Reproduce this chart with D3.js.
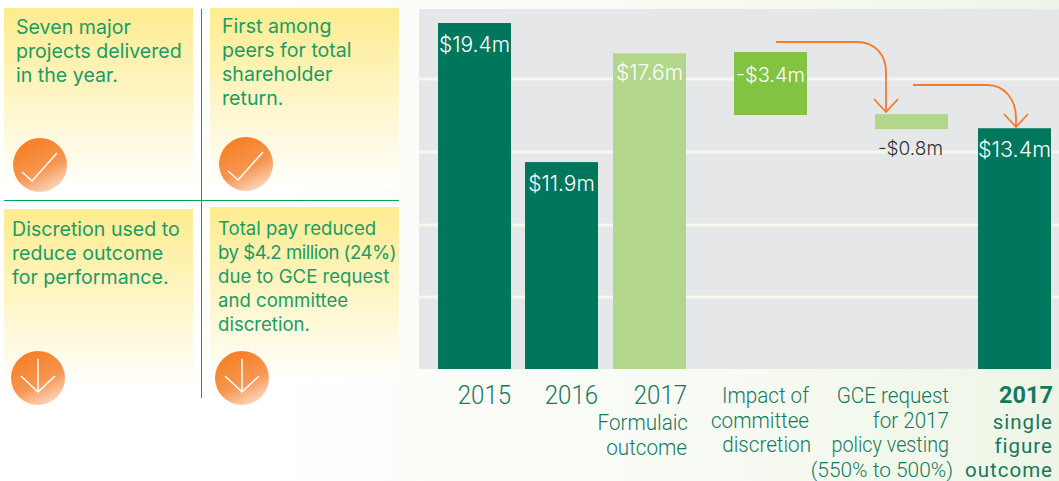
<!DOCTYPE html>
<html>
<head>
<meta charset="utf-8">
<script src="https://cdn.jsdelivr.net/npm/d3@7"></script>
<style>
html,body{margin:0;padding:0;background:#fff;overflow:hidden}
</style>
</head>
<body>
<div id="chart"></div>
<script>
// values in $m
const categories = ['2015', '2016', '2017f', 'impact', 'gce', '2017s'];
const barLow = [0, 0, 0, 14.24, 13.45, 0];
const barHigh = [19.4, 11.6, 17.7, 17.77, 14.29, 13.5];
const barLabels = ['$19.4m', '$11.9m', '$17.6m', '-$3.4m', '-$0.8m', '$13.4m'];
const gridValues = [4.04, 8.07, 12.17, 16.26];
const axisLines = [
  ['2015'], ['2016'], ['2017', 'Formulaic', 'outcome'],
  ['Impact of', 'committee', 'discretion'],
  ['GCE request', 'for 2017', 'policy vesting', '(550% to 500%)'],
  ['2017', 'single', 'figure', 'outcome']
];
const panelTexts = [
  ['Seven major', 'projects delivered', 'in the year.'],
  ['First among', 'peers for total', 'shareholder', 'return.'],
  ['Discretion used to', 'reduce outcome', 'for performance.'],
  ['Total pay reduced', 'by $4.2 million (24%)', 'due to GCE request', 'and committee', 'discretion.']
];
const panelIcons = ['check', 'check', 'down', 'down'];

const width = 1059, height = 481;
const svg = d3.select('#chart').append('svg').attr('width', width).attr('height', height)
  .style('display', 'block');
const defs = svg.append('defs');

const fadeBg = defs.append('linearGradient').attr('id', 'fadeBg');
fadeBg.append('stop').attr('offset', '0').attr('stop-color', '#ffffff');
fadeBg.append('stop').attr('offset', '0.2').attr('stop-color', '#fcfcf9');
fadeBg.append('stop').attr('offset', '0.55').attr('stop-color', '#f8fbf4');
fadeBg.append('stop').attr('offset', '1').attr('stop-color', '#eef5e6');

const panelGrad = defs.append('linearGradient').attr('id', 'panelGrad')
  .attr('x1', 0).attr('y1', 0).attr('x2', 0).attr('y2', 1);
panelGrad.append('stop').attr('offset', '0').attr('stop-color', '#feec8f');
panelGrad.append('stop').attr('offset', '1').attr('stop-color', '#ffffff');

const iconGrad = defs.append('linearGradient').attr('id', 'iconGrad')
  .attr('x1', 0.3).attr('y1', 0.05).attr('x2', 0.75).attr('y2', 1);
iconGrad.append('stop').attr('offset', '0').attr('stop-color', '#f58025');
iconGrad.append('stop').attr('offset', '0.55').attr('stop-color', '#f79550');
iconGrad.append('stop').attr('offset', '1').attr('stop-color', '#fbdcc6');

defs.append('marker').attr('id', 'arrowHead')
  .attr('viewBox', '-14 -14 16 28').attr('refX', 0).attr('refY', 0)
  .attr('markerUnits', 'userSpaceOnUse').attr('markerWidth', 16).attr('markerHeight', 28)
  .attr('orient', 'auto')
  .append('path').attr('d', 'M-13,-12L0,0L-13,12')
  .attr('fill', 'none').attr('stroke', '#f47b2a').attr('stroke-width', 1.8);

// background
svg.append('rect').attr('x', 270).attr('y', 0).attr('width', 789).attr('height', 481).attr('fill', 'url(#fadeBg)');
svg.append('rect').attr('x', 419).attr('y', 9).attr('width', 640).attr('height', 360).attr('fill', '#e6e7e9');

// chart
const x = d3.scaleOrdinal().domain(categories).range([438, 525, 613, 734, 875, 978]);
const barW = 73;
const y = d3.scaleLinear().domain([0, 19.4]).range([369, 23]);

svg.append('g').selectAll('line').data(gridValues).join('line')
  .attr('x1', 419).attr('x2', 1059)
  .attr('y1', d => y(d)).attr('y2', d => y(d))
  .attr('stroke', '#f5f8ec').attr('stroke-width', 3);

const barFill = ['#00775c', '#00775c', '#b2d78b', '#82c341', '#b2d78b', '#00775c'];
svg.append('g').selectAll('rect').data(categories).join('rect')
  .attr('x', d => x(d)).attr('width', barW)
  .attr('y', (d, i) => y(barHigh[i]))
  .attr('height', (d, i) => y(barLow[i]) - y(barHigh[i]))
  .attr('fill', (d, i) => barFill[i]);

const valueY = [52, 191, 80, 82, 155, 157];
const valueSize = [21, 21, 21, 20, 19, 21.5];
svg.append('g').selectAll('text').data(categories).join('text')
  .attr('x', (d, i) => x(d) + barW / 2 - (i == 4 ? 1 : 0)).attr('y', (d, i) => valueY[i])
  .attr('text-anchor', 'middle')
  .attr('font-family', 'Inter').attr('font-size', (d, i) => valueSize[i]).attr('font-weight', 300)
  .attr('fill', (d, i) => i == 4 ? '#333' : '#fff')
  .text((d, i) => barLabels[i]);

// waterfall arrows
const arrows = ['M776,42H857C875,42 886,55 886,72V112', 'M913,85H987C1005,85 1016,100 1016,118V127'];
svg.append('g').selectAll('path').data(arrows).join('path')
  .attr('d', d => d).attr('fill', 'none')
  .attr('stroke', '#f47b2a').attr('stroke-width', 1.8)
  .attr('marker-end', 'url(#arrowHead)');

// category labels, condensed by squeezing x a bit
const axisRight = [
  [511], [598], [687, 688, 687],
  [809, 809, 811],
  [949, 949, 949, 953],
  [1053, 1053, 1053, 1053]
];
const axisBase = [
  [404], [404], [404, 430, 455],
  [403, 428, 452],
  [403, 428, 452, 476.5],
  [403, 429, 453, 476.5]
];
const axisG = svg.append('g').attr('font-family', 'Roboto').attr('fill', '#14795f').attr('text-anchor', 'end');
axisLines.forEach((lines, i) => {
  lines.forEach((t, j) => {
    const big = j == 0 && i < 3;
    let sx = i == 5 ? 1 : 0.96;
    if (t == 'policy vesting') sx = 0.92;
    if (t[0] == '(') sx = 1.02;
    const lt = axisG.append('text')
      .attr('transform', `translate(${axisRight[i][j]},${axisBase[i][j]}) scale(${sx},1)`)
      .attr('font-size', big ? 25 : t[0] == '(' ? 20.5 : 21.5).attr('font-weight', 300)
      .text(t);
    if (i == 5) {
      lt.attr('font-weight', j == 0 ? 700 : 400).attr('font-size', j == 0 ? 23.5 : 20.5)
        .attr('letter-spacing', j == 0 ? 0 : 1);
    }
  });
});

// left panels
const panelX = [4, 210, 4, 210], panelY = [8, 8, 209, 207], panelH = [181, 181, 182, 175];
const panelG = svg.append('g').selectAll('g').data(panelTexts).join('g');
panelG.append('rect').attr('x', (d, i) => panelX[i]).attr('y', (d, i) => panelY[i])
  .attr('width', 189).attr('height', (d, i) => panelH[i]).attr('fill', 'url(#panelGrad)');
const textX = [16, 222, 12, 218], textY = [34, 33, 236, 235];
panelG.each(function (lines, i) {
  d3.select(this).selectAll('text').data(lines).join('text')
    .attr('x', textX[i]).attr('y', (d, j) => textY[i] + j * 24)
    .attr('font-family', 'Inter').attr('font-size', i == 3 ? 18.6 : 19.6)
    .attr('letter-spacing', d => d.startsWith('by $') ? -0.5 : 0)
    .attr('fill', '#1a9c64').text(d => d);
});
const iconX = [40, 246, 38, 242], iconY = [165, 164, 378, 378];
panelG.append('circle').attr('cx', (d, i) => iconX[i]).attr('cy', (d, i) => iconY[i]).attr('r', 27).attr('fill', 'url(#iconGrad)');
panelG.append('path').attr('fill', 'none').attr('stroke', '#fff').attr('stroke-width', 1.5)
  .attr('d', (d, i) => {
    const cx = iconX[i], cy = iconY[i];
    return panelIcons[i] == 'check'
      ? `M${cx - 18},${cy + 7}L${cx - 8},${cy + 16}L${cx + 17},${cy - 12}`
      : `M${cx},${cy - 19}V${cy + 14}M${cx - 17},${cy - 2}L${cx},${cy + 14}L${cx + 17},${cy - 2}`;
  });

svg.append('line').attr('x1', 201.5).attr('x2', 201.5).attr('y1', 9).attr('y2', 398).attr('stroke', '#00a651');
svg.append('line').attr('x1', 4).attr('x2', 399).attr('y1', 200.5).attr('y2', 200.5).attr('stroke', '#00a651');
</script>
</body>
</html>
